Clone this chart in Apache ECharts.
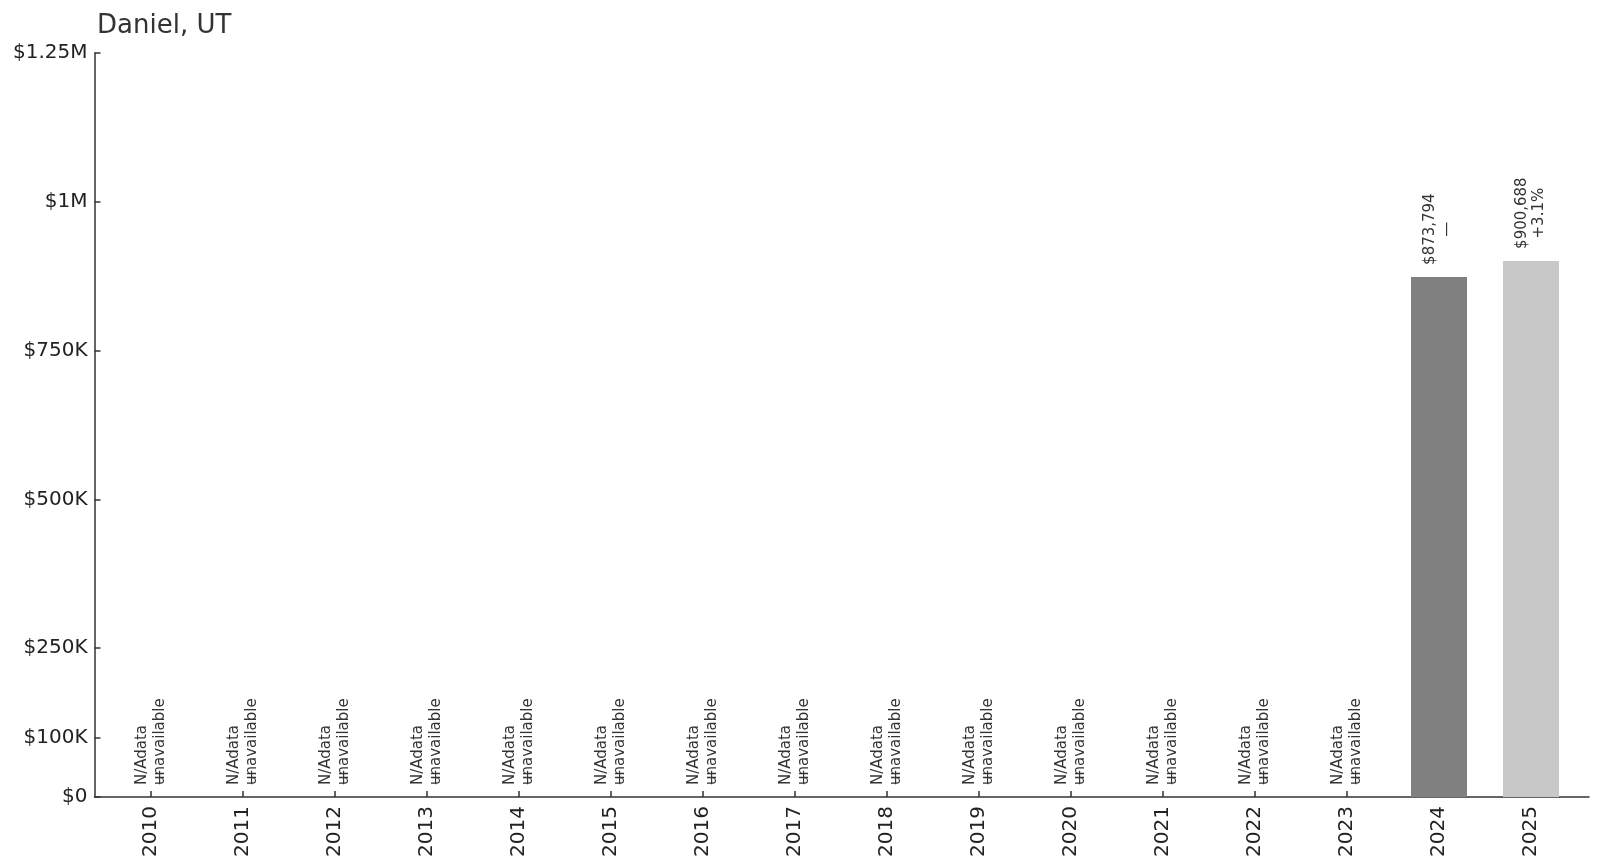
<!DOCTYPE html>
<html>
<head>
<meta charset="utf-8">
<script src="https://cdn.jsdelivr.net/npm/echarts@6/dist/echarts.min.js"></script>
<style>
html,body{margin:0;padding:0;background:#fff;}
#chart{width:1600px;height:868px;}
</style>
</head>
<body>
<div id="chart"></div>
<script>
const titleText = 'Daniel, UT';
const years = [2010,2011,2012,2013,2014,2015,2016,2017,2018,2019,2020,2021,2022,2023,2024,2025];
const values = [null,null,null,null,null,null,null,null,null,null,null,null,null,null,873794,900688];
const changes = [null,null,null,null,null,null,null,null,null,null,null,null,null,null,'—','+3.1%'];
const barColors = ['#808080','#808080','#808080','#808080','#808080','#808080','#808080','#808080','#808080','#808080','#808080','#808080','#808080','#808080','#808080','#c8c8c8'];
const yTicks = [0,100000,250000,500000,750000,1000000,1250000];
const yTickLabels = ['$0','$100K','$250K','$500K','$750K','$1M','$1.25M'];

const FONT = 'DejaVu Sans';
function money(v){ return '$' + v.toLocaleString('en-US'); }

const mainData = years.map((y,i) => ({
  value: [y, values[i] == null ? 0 : values[i]],
  itemStyle: { color: barColors[i] },
  label: values[i] == null
    ? { formatter: 'N/Adata\n—', lineHeight: 18 }
    : { formatter: '{c|' + money(values[i]) + '}\n{c|' + changes[i] + '}' }
}));
const naData = years.map((y,i) => ({
  value: [y, 0],
  label: { show: values[i] == null, formatter: '\u00a0\nunavailable', lineHeight: 18 }
}));

const labelBase = {
  show: true, position: 'top', distance: 12, rotate: 90,
  align: 'left', verticalAlign: 'middle',
  fontFamily: FONT, fontSize: 15, lineHeight: 17, color: '#333',
  rich: { c: { align: 'center', fontFamily: FONT, fontSize: 15, lineHeight: 17, color: '#333' } }
};

const chart = echarts.init(document.getElementById('chart'));
chart.setOption({
  animation: false,
  backgroundColor: '#fff',
  title: {
    text: titleText, left: 92, top: 8,
    textStyle: { fontFamily: FONT, fontSize: 26, fontWeight: 'normal', color: '#333' }
  },
  grid: { left: 94.5, right: 11, top: 53, bottom: 71, containLabel: false },
  xAxis: {
    type: 'value', min: 2009.39, max: 2025.63,
    splitLine: { show: false },
    axisLine: { show: true, lineStyle: { color: '#333', width: 1.5 } },
    axisTick: { show: true, inside: true, length: 6, customValues: years, lineStyle: { color: '#333', width: 1.5 } },
    axisLabel: {
      customValues: years, rotate: 90, margin: 9,
      fontFamily: FONT, fontSize: 20, color: '#222',
      formatter: v => String(Math.round(v))
    }
  },
  yAxis: {
    type: 'value', min: 0, max: 1250000,
    splitLine: { show: false },
    axisLine: { show: true, lineStyle: { color: '#333', width: 1.5 } },
    axisTick: { show: true, inside: true, length: 6, customValues: yTicks, lineStyle: { color: '#333', width: 1.5 } },
    axisLabel: {
      customValues: yTicks, margin: 7, padding: [8,0,0,0],
      fontFamily: FONT, fontSize: 20, color: '#222',
      formatter: v => yTickLabels[yTicks.indexOf(v)]
    }
  },
  series: [
    { type: 'bar', barWidth: 56, data: mainData, label: labelBase },
    { type: 'bar', barWidth: 56, barGap: '-100%', data: naData, itemStyle: { color: 'rgba(0,0,0,0)' }, label: labelBase, silent: true }
  ]
});
</script>
</body>
</html>
